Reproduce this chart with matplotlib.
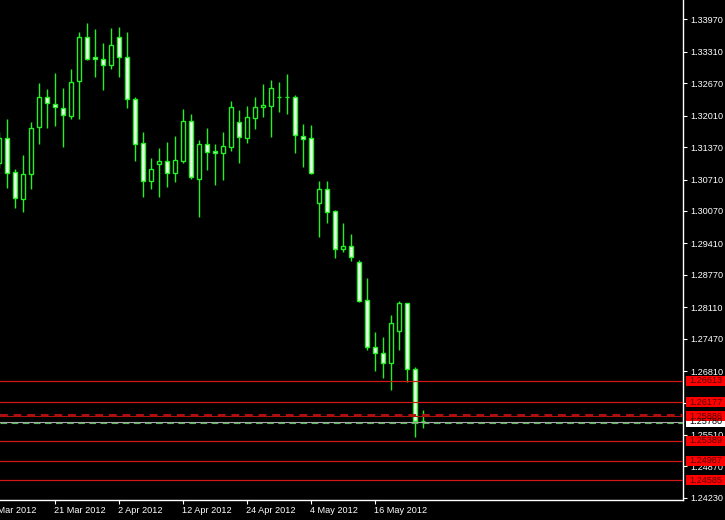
import numpy as np
import pandas as pd
import matplotlib
matplotlib.use('Agg')
import matplotlib.pyplot as plt
from matplotlib.patches import Rectangle
from matplotlib.transforms import blended_transform_factory

plt.rcParams['font.family'] = ['Liberation Sans', 'DejaVu Sans']

# ---------------- data ----------------
dates = pd.bdate_range('2012-03-12', '2012-05-24')

opens = [1.31053, 1.31550, 1.30857, 1.30320, 1.30817, 1.31774, 1.32397, 1.32255, 1.32161, 1.32010,
         1.32711, 1.33607, 1.33200, 1.33171, 1.33037, 1.33607, 1.33212, 1.32344, 1.31448, 1.30674,
         1.31020, 1.31081, 1.30837, 1.31094, 1.31896, 1.30715, 1.31434, 1.31285, 1.31244, 1.31379,
         1.31882, 1.31562, 1.31969, 1.32181, 1.32214, 1.32391, 1.32391, 1.32385, 1.31603, 1.31550,
         1.30238, 1.30511, 1.30069, 1.29289, 1.29362, 1.29024, 1.28250, 1.27293, 1.27171, 1.26980,
         1.27631, 1.28189, 1.26845, 1.25798]
highs = [1.31678, 1.31943, 1.30925, 1.31210, 1.31888, 1.32670, 1.32548, 1.32874, 1.32568, 1.32955,
         1.33709, 1.33892, 1.33770, 1.33485, 1.33790, 1.33823, 1.33709, 1.32397, 1.31672, 1.31143,
         1.31346, 1.31475, 1.31597, 1.32141, 1.32039, 1.31515, 1.31754, 1.31434, 1.31672, 1.32310,
         1.32126, 1.32208, 1.32397, 1.32656, 1.32737, 1.32697, 1.32859, 1.32426, 1.31841, 1.31815,
         1.30680, 1.30680, 1.30090, 1.29831, 1.29601, 1.29071, 1.28699, 1.27599, 1.27497, 1.27951,
         1.28242, 1.28202, 1.26886, 1.26016]
lows = [1.30945, 1.30532, 1.30124, 1.30055, 1.30511, 1.31434, 1.31754, 1.31806, 1.31367, 1.31937,
        1.31937, 1.33145, 1.32792, 1.32534, 1.32955, 1.32804, 1.32161, 1.31094, 1.30360, 1.30517,
        1.30348, 1.30552, 1.30666, 1.31041, 1.30715, 1.29953, 1.30904, 1.30593, 1.30701, 1.31297,
        1.31053, 1.31460, 1.31745, 1.31990, 1.31582, 1.32092, 1.32045, 1.31244, 1.30971, 1.30823,
        1.29546, 1.29831, 1.29118, 1.29240, 1.29057, 1.28222, 1.27238, 1.26810, 1.26674, 1.26423,
        1.27238, 1.26592, 1.25460, 1.25643]
closes = [1.31550, 1.30849, 1.30328, 1.30817, 1.31754, 1.32397, 1.32263, 1.32181, 1.32018, 1.32690,
          1.33607, 1.33159, 1.33159, 1.33037, 1.33444, 1.33212, 1.32344, 1.31428, 1.30674, 1.30918,
          1.31081, 1.30837, 1.31108, 1.31902, 1.30755, 1.31434, 1.31277, 1.31244, 1.31393, 1.32181,
          1.31582, 1.31978, 1.32181, 1.32228, 1.32568, 1.32391, 1.32391, 1.31611, 1.31542, 1.30837,
          1.30511, 1.30055, 1.29289, 1.29350, 1.29138, 1.28242, 1.27293, 1.27171, 1.26980, 1.27782,
          1.28189, 1.26845, 1.25798, 1.25798]

y_ticks = [1.33970, 1.33310, 1.32670, 1.32010, 1.31370, 1.30710, 1.30070, 1.29410,
           1.28770, 1.28110, 1.27470, 1.26810, 1.26150, 1.25510, 1.24870, 1.24230]
x_tick_dates = ['2012-03-09', '2012-03-21', '2012-04-02', '2012-04-12',
                '2012-04-24', '2012-05-04', '2012-05-16']
x_tick_labels = ['9 Mar 2012', '21 Mar 2012', '2 Apr 2012', '12 Apr 2012',
                 '24 Apr 2012', '4 May 2012', '16 May 2012']

level_prices = [1.26613, 1.26177, 1.25389, 1.24987, 1.24585]
dotted_level = 1.25886
bid_price = 1.25780
order_price = 1.25757

# ---------------- figure ----------------
W, H = 725, 520
fig = plt.figure(figsize=(W / 100, H / 100), dpi=100, facecolor='black')
ax = fig.add_axes([0, 20 / H, 683 / W, 500 / H], facecolor='black')

green = '#22f022'
x = np.arange(len(dates))
body_w = 0.5
for xi, o, h, l, c in zip(x, opens, highs, lows, closes):
    ax.vlines(xi, l, h, color=green, lw=1.0, zorder=2)
    fc = '#f4fff4' if c < o else 'black'
    ax.add_patch(Rectangle((xi - body_w / 2, min(o, c)), body_w, abs(c - o),
                           facecolor=fc, edgecolor=green, lw=1.0, zorder=3))

ax.set_xlim(0.125, 85.5)
ax.set_ylim(1.24183, 1.34366)

# horizontal levels
red_line = '#d01818'
for p in level_prices:
    ax.axhline(p, color=red_line, lw=0.9, zorder=4)
ax.axhline(dotted_level, color='#b01010', lw=0.8, zorder=4)
px = (1.34366 - 1.24183) / 500.0
ax.axhline(dotted_level + 1.3 * px, color='#b01010', lw=1.4, ls=(0, (4, 3)), zorder=4)
ax.axhline(bid_price, color='#a8a8a8', lw=0.8, zorder=4)
ax.axhline(order_price, color='#5cb85c', lw=0.8, ls=(0, (6, 4)), zorder=4)

# axes styling
for s in ['left', 'top']:
    ax.spines[s].set_visible(False)
for s in ['right', 'bottom']:
    ax.spines[s].set_color('white')
    ax.spines[s].set_linewidth(1.0)

ax.yaxis.tick_right()
ax.set_yticks(y_ticks)
ax.set_yticklabels([f'{v:.5f}' for v in y_ticks])
ax.tick_params(axis='y', colors='white', length=3, pad=2, labelsize=6.6, width=0.8)

tick_pos = [np.busday_count('2012-03-12', d) for d in x_tick_dates]
vis = [p for p in tick_pos if p >= 0.125]
ax.set_xticks(vis)
ax.set_xticklabels([''] * len(vis))
ax.tick_params(axis='x', colors='white', length=3, width=0.8)

trans_x = blended_transform_factory(ax.transData, ax.transAxes)
for p, lab in zip(tick_pos, x_tick_labels):
    ax.text(p - 0.12, -0.021, lab, transform=trans_x, ha='left', va='center',
            color='white', fontsize=6.6, clip_on=False)

# right-side price labels
trans_y = blended_transform_factory(ax.transAxes, ax.transData)
x0 = 686 / 683
bw = 39 / 683


def price_box(p, fc, tc, hpx):
    ax.add_patch(Rectangle((x0, p - hpx * px / 2), bw, hpx * px, transform=trans_y,
                           facecolor=fc, edgecolor='none', clip_on=False, zorder=10))
    ax.text(689 / 683, p, f'{p:.5f}', transform=trans_y, ha='left', va='center',
            fontsize=6.6, color=tc, clip_on=False, zorder=11)


price_box(bid_price, 'white', 'black', 11)
for p in level_prices + [dotted_level]:
    price_box(p, '#ff0000', '#5a0000', 10)

fig.savefig('out.png', dpi=100, facecolor='black')
